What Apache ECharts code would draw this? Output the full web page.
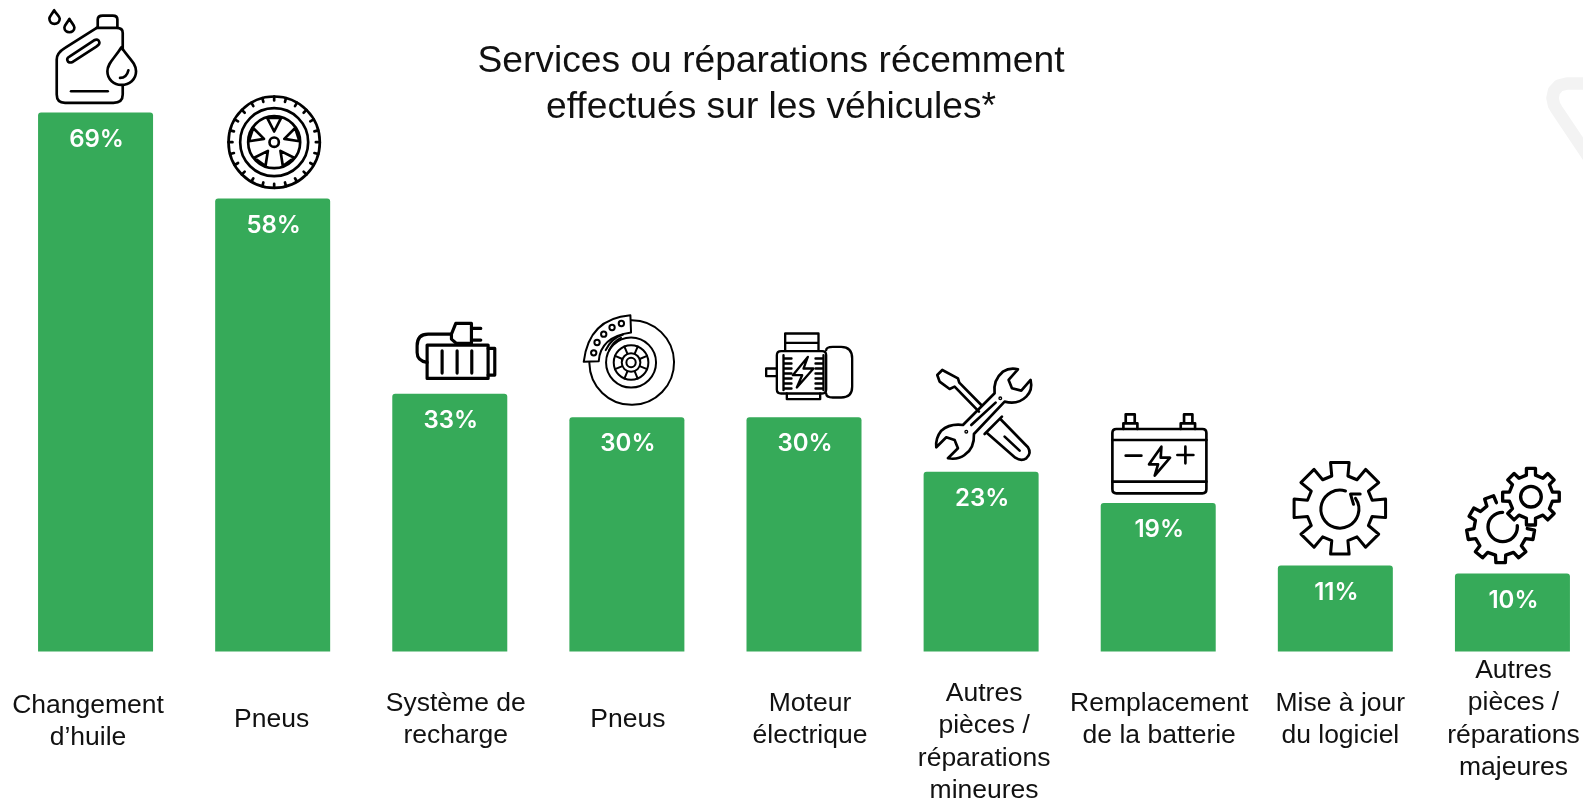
<!DOCTYPE html>
<html lang="fr">
<head>
<meta charset="utf-8">
<title>Services ou réparations récemment effectués sur les véhicules</title>
<style>
  html, body { margin: 0; padding: 0; background: #fff; }
  #chart { width: 1583px; height: 800px; }
</style>
<script src="https://cdn.jsdelivr.net/npm/echarts@6/dist/echarts.min.js"></script>
</head>
<body>
<div id="chart"></div>
<script>
// Chart values
const chartTitle = 'Services ou réparations récemment\neffectués sur les véhicules*';
const categories = [
  "Changement\nd’huile",
  'Pneus',
  'Système de\nrecharge',
  'Pneus',
  'Moteur\nélectrique',
  'Autres\npièces /\nréparations\nmineures',
  'Remplacement\nde la batterie',
  'Mise à jour\ndu logiciel',
  'Autres\npièces /\nréparations\nmajeures'
];
const shares = [69, 58, 33, 30, 30, 23, 19, 11, 10];
const iconNames = ['jug', 'tire', 'starter', 'disc', 'motor', 'tools', 'battery', 'cog', 'cogs'];

// Horizontal nudge of each category label from its tick, and vertical centre of each label block
const labelShiftX = [-7.5, -1, 6, 1, 6, 3, 1, 5, 1];
const labelCentreY = [721.5, 719.5, 719.5, 719.5, 719.5, 742, 719.5, 719.5, 719];

const GREEN = '#36AA59';
const TEXT = '#111111';
const SANS = '"Liberation Sans", Arial, sans-serif';
const LABEL_LINE = 32.4;
const PLOT_TOP = 104.8;
const PLOT_HEIGHT = 546.7;

// Icon geometry helpers. Units are a third of a pixel.
const polar = (cx, cy, r, deg) => {
  const a = deg * Math.PI / 180;
  return [(cx + r * Math.cos(a)).toFixed(1), (cy + r * Math.sin(a)).toFixed(1)];
};
const circle = (cx, cy, r) =>
  `M ${cx - r} ${cy} A ${r} ${r} 0 1 1 ${cx + r} ${cy} A ${r} ${r} 0 1 1 ${cx - r} ${cy} Z`;
const ticks = (cx, cy, r0, r1, count, offset) => {
  let d = '';
  for (let i = 0; i < count; i++) {
    const deg = offset + i * 360 / count;
    d += `M ${polar(cx, cy, r0, deg).join(' ')} L ${polar(cx, cy, r1, deg).join(' ')} `;
  }
  return d;
};
// Toothed outline running clockwise; fewer teeth than the full count leaves the gear open
const gear = (cx, cy, rOut, rRoot, teeth, startDeg, count, wOut, wRoot) => {
  let d = '';
  const step = 360 / teeth;
  for (let i = 0; i < count; i++) {
    const a = startDeg + i * step;
    d += (i === 0 ? 'M ' : 'L ') + polar(cx, cy, rRoot, a - wRoot).join(' ') + ' ';
    d += 'L ' + polar(cx, cy, rOut, a - wOut).join(' ') + ' ';
    d += 'L ' + polar(cx, cy, rOut, a + wOut).join(' ') + ' ';
    d += 'L ' + polar(cx, cy, rRoot, a + wRoot).join(' ') + ' ';
  }
  return d + (count === teeth ? 'Z' : '');
};
const wheelWindows = (cx, cy) => {
  let d = '';
  for (let k = 0; k < 5; k++) {
    const a = -90 + k * 72;
    d += `M ${polar(cx, cy, 76, a - 16).join(' ')} L ${polar(cx, cy, 76, a + 16).join(' ')} L ${polar(cx, cy, 32, a).join(' ')} Z `;
  }
  return d;
};

// Each icon: offset of its drawing origin from the top centre of its bar, stroke width, outlines
const icons = {
  jug: {
    dx: -95.5, dy: -113, width: 8,
    paths: [
      'M 290 85 L 195 145 Q 170 160 170 180 L 170 285 Q 170 310 195 310 L 340 310 Q 368 310 368 285 L 368 258',
      'M 368 150 L 368 100 Q 368 85 350 85 L 290 85',
      'M 293 82 L 293 60 Q 293 48 308 48 L 338 48 Q 352 48 352 60 L 352 82',
      'M 207 172 L 282 122 Q 295 116 298 128 Q 299 135 290 140 L 218 187 Q 205 192 202 182 Q 200 176 207 172 Z',
      'M 213 275 L 323 275',
      'M 364 143 C 345 175 322 190 322 215 C 322 240 342 256 364 256 C 388 256 408 240 408 215 C 408 190 385 175 364 143 Z',
      'M 360 235 Q 380 235 385 212',
      'M 162 32 C 155 45 148 50 148 57 C 148 67 155 73 163 73 C 172 73 179 67 179 57 C 179 50 170 45 162 32 Z',
      'M 208 58 C 202 70 193 76 193 84 C 193 93 200 98 208 98 C 216 98 223 93 223 84 C 223 76 214 70 208 58 Z'
    ]
  },
  tire: {
    dx: -273.5, dy: -199, width: 8,
    paths: [
      circle(825, 428, 137),
      circle(825, 428, 102),
      circle(825, 428, 78),
      circle(825, 428, 14),
      ticks(825, 428, 125, 137, 24, 0),
      wheelWindows(825, 428)
    ]
  },
  starter: {
    dx: -450 + 380, dy: -393 + 300, width: 9.5,
    paths: [
      'M 142 133 L 325 133 L 325 233 L 142 233 Z',
      'M 325 143 L 345 143 L 345 223 L 325 223',
      'M 187 150 L 187 217 M 232 150 L 232 217 M 276 150 L 276 217',
      'M 215 100 L 145 100 Q 112 100 112 135 L 112 155 Q 112 180 142 185',
      'M 215 100 L 228 68 L 275 68 L 275 128 L 230 128 L 215 115 Z',
      'M 275 83 L 303 83 M 275 118 L 303 118'
    ]
  },
  disc: {
    dx: -626.5 + 380, dy: -417 + 300, width: 6,
    paths: [
      'M 752 60 A 127 127 0 1 1 627 187',
      circle(752, 187, 75),
      circle(752, 187, 52),
      circle(752, 187, 28),
      circle(752, 187, 14),
      ticks(752, 187, 28, 52, 8, 22.5),
      'M 610 185 L 655 183 Q 660 110 752 97 L 750 45 Q 625 55 610 185 Z',
      circle(640, 158, 8), circle(650, 127, 8), circle(670, 102, 8), circle(695, 82, 8), circle(723, 70, 8),
      'M 676 150 Q 692 115 728 103 M 686 150 Q 700 122 722 113'
    ]
  },
  motor: {
    dx: -804.5 + 380, dy: -417 + 300, width: 7,
    paths: [
      'M 1217 150 L 1217 100 L 1317 100 L 1317 150 M 1217 128 L 1317 128',
      'M 1205 153 L 1328 153 Q 1340 153 1340 165 L 1340 268 Q 1340 280 1328 280 L 1205 280 Q 1192 280 1192 268 L 1192 165 Q 1192 153 1205 153 Z',
      'M 1340 150 Q 1340 140 1360 140 L 1385 140 Q 1418 140 1418 175 L 1418 260 Q 1418 292 1385 292 L 1360 292 Q 1340 292 1340 280',
      'M 1192 205 L 1160 205 L 1160 228 L 1192 228',
      'M 1222 280 L 1222 297 L 1322 297 L 1322 280',
      'M 1212 165 L 1212 270 M 1212 175 L 1236 175 M 1212 190 L 1236 190 M 1212 205 L 1236 205 M 1212 220 L 1236 220 M 1212 235 L 1236 235 M 1212 250 L 1236 250 M 1212 265 L 1236 265',
      'M 1332 165 L 1332 270 M 1332 175 L 1308 175 M 1332 190 L 1308 190 M 1332 205 L 1308 205 M 1332 220 L 1308 220 M 1332 235 L 1308 235 M 1332 250 L 1308 250 M 1332 265 L 1308 265',
      'M 1285 170 L 1240 225 L 1268 225 L 1252 262 L 1302 205 L 1272 205 Z'
    ]
  },
  tools: {
    dx: -56.5, dy: -111.9, width: 8,
    paths: [
      'M 170 135 L 104 68 L 100 55 L 53 30 L 38 45 L 45 65 L 75 87 L 90 80 L 163 155',
      'M 228 178 L 310 262 Q 322 280 305 295 Q 290 305 272 293 L 188 220',
      'M 232 170 L 180 222',
      'M 240 230 L 285 272',
      'M 115 195 L 210 100 Q 205 60 235 35 Q 255 22 280 28 L 252 60 L 262 85 L 290 92 L 318 60 Q 325 90 305 110 Q 280 135 240 125 L 148 222 Q 150 265 120 285 Q 100 300 70 295 L 100 265 L 90 240 L 65 232 L 35 262 Q 32 235 50 212 Q 75 190 115 195 Z',
      'M 140 195 L 213 128',
      circle(227, 115, 2), circle(125, 215, 2)
    ]
  },
  battery: {
    dx: -57.5, dy: -98.1, width: 8,
    paths: [
      'M 47 72 L 305 72 Q 317 72 317 84 L 317 253 Q 317 265 305 265 L 47 265 Q 35 265 35 253 L 35 84 Q 35 72 47 72 Z',
      'M 35 105 L 317 105 M 35 230 L 317 230',
      'M 68 72 L 68 55 L 110 55 L 110 72 M 75 55 L 75 28 L 102 28 L 102 55',
      'M 240 72 L 240 55 L 283 55 L 283 72 M 250 55 L 250 28 L 275 28 L 275 55',
      'M 75 152 L 122 152',
      'M 230 150 L 278 150 M 254 125 L 254 175',
      'M 182 125 L 145 178 L 172 178 L 162 212 L 208 158 L 180 158 Z'
    ]
  },
  cog: {
    dx: -50.5, dy: -110.6, width: 9,
    paths: [
      gear(165, 160, 140, 100, 8, -90, 8, 11.5, 14),
      'M 182 108 A 57 57 0 1 0 212 130',
      'M 226 117 L 197 117 L 206 148'
    ]
  },
  cogs: {
    dx: -52.5, dy: -113.4, width: 10,
    paths: [
      gear(213, 110, 86, 66, 8, -90, 8, 9, 12),
      circle(213, 110, 31),
      gear(122, 207, 102, 80, 9, 10, 7, 8, 11),
      'M 128 157 A 44 44 0 1 0 172 197'
    ]
  }
};

// Axis labels hang from the plot floor, so each block's top padding places its centre
const labelPadding = i => {
  const lines = categories[i].split('\n').length;
  const top = labelCentreY[i] - lines * LABEL_LINE / 2 - (PLOT_TOP + PLOT_HEIGHT);
  return [
    Math.max(top, 0),
    Math.max(-labelShiftX[i], 0) * 2,
    0,
    Math.max(labelShiftX[i], 0) * 2
  ];
};

const chart = echarts.init(document.getElementById('chart'), null, { renderer: 'canvas' });

chart.setOption({
  backgroundColor: '#ffffff',
  animation: false,
  title: {
    text: chartTitle,
    left: 771,
    top: 39,
    textAlign: 'center',
    padding: 0,
    textStyle: {
      fontFamily: SANS,
      fontSize: 37.2,
      fontWeight: 'normal',
      lineHeight: 46,
      color: TEXT
    }
  },
  // Pale corner of the brand mark, cut off by the right edge
  graphic: [{
    type: 'polyline',
    silent: true,
    z: -1,
    shape: {
      points: [[1600, 83.5], [1567, 83.5], [1559, 85.5], [1554, 91], [1552.5, 98], [1554, 105], [1557, 110], [1600, 174]]
    },
    style: { fill: 'none', stroke: '#f3f3f3', lineWidth: 12.5, lineJoin: 'round' }
  }],
  grid: { left: 7, top: PLOT_TOP, width: 1594, height: PLOT_HEIGHT, outerBoundsMode: 'none' },
  xAxis: {
    type: 'category',
    data: categories.map((value, i) => ({
      value,
      textStyle: { padding: labelPadding(i) }
    })),
    axisLine: { show: false },
    axisTick: { show: false },
    axisLabel: {
      interval: 0,
      margin: 0,
      align: 'center',
      color: TEXT,
      fontFamily: SANS,
      fontSize: 26.5,
      lineHeight: LABEL_LINE
    }
  },
  yAxis: {
    type: 'value',
    min: 0,
    max: 70,
    show: false,
    splitLine: { show: false }
  },
  series: [
    {
      type: 'bar',
      data: shares,
      barWidth: 115,
      silent: true,
      itemStyle: { color: GREEN, borderRadius: [3, 3, 0, 0] },
      label: {
        show: true,
        position: 'insideTop',
        distance: 15,
        offset: [1, 0],
        formatter: '{c}%',
        color: '#ffffff',
        fontFamily: 'Inter, "Open Sans", sans-serif',
        fontWeight: 600,
        fontSize: 24
      }
    },
    {
      // Line icon sitting on top of each bar, anchored through the value scale
      type: 'custom',
      silent: true,
      coordinateSystem: 'cartesian2d',
      data: shares.map((value, i) => [i, value]),
      encode: { x: 0, y: 1 },
      renderItem: (params, api) => {
        const icon = icons[iconNames[api.value(0)]];
        const top = api.coord([api.value(0), api.value(1)]);
        return {
          type: 'group',
          x: top[0] + icon.dx,
          y: top[1] + icon.dy,
          scaleX: 1 / 3,
          scaleY: 1 / 3,
          children: icon.paths.map(pathData => ({
            type: 'path',
            shape: { pathData },
            style: {
              fill: 'none',
              stroke: '#000000',
              lineWidth: icon.width,
              lineJoin: 'round',
              lineCap: 'round'
            }
          }))
        };
      }
    }
  ]
});
</script>
</body>
</html>
